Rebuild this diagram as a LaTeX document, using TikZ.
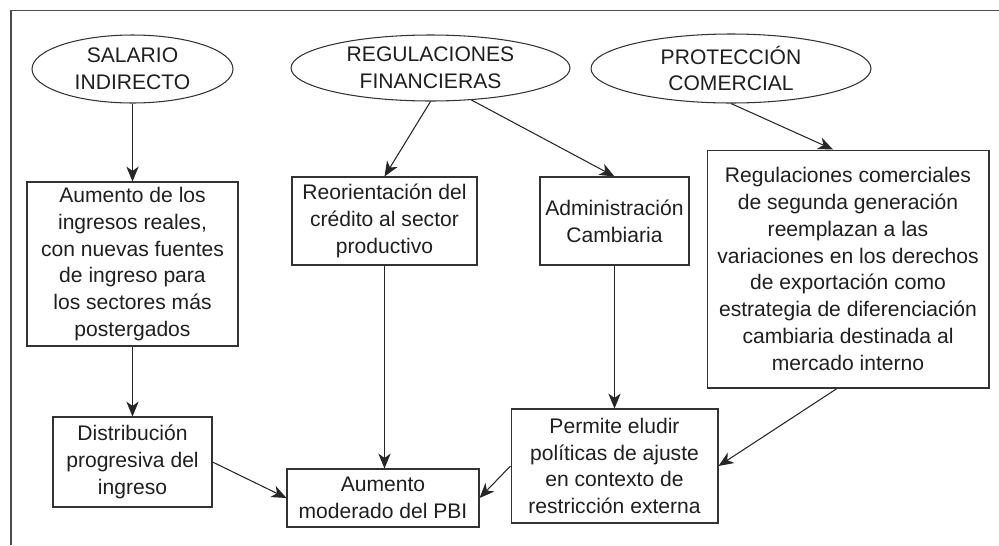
\documentclass[tikz,border=0pt]{standalone}
\usepackage{fontspec}
\setmainfont{Liberation Sans}
\usetikzlibrary{positioning,calc,shapes.geometric,arrows.meta}

\begin{document}
\begin{tikzpicture}[x=0.02cm,y=-0.02cm,
		font=\fontsize{12}{15.3}\selectfont,
		box/.style={draw=black!80,line width=0.6pt,rectangle,inner sep=0pt,align=center,text=black!88},
		oval/.style={draw=black!80,line width=0.6pt,ellipse,inner sep=0pt,align=center,text=black!88},
		arr/.style={draw=black!85,line width=0.6pt,-{Stealth[length=8.5pt,width=7pt,inset=2.5pt]}}]
			\useasboundingbox (0,0) rectangle (999,545);
			
			\draw[line width=0.9pt,black!70] (999,10.5) -- (11,10.5) -- (11,545);
			
			% top row
			\node[oval,minimum width=4.02cm,minimum height=1.36cm] (salario) at (132.5,69) {SALARIO\\INDIRECTO};
			\node[oval,minimum width=5.58cm,minimum height=1.32cm] (regfin) at (430.5,68) {REGULACIONES\\FINANCIERAS};
			\node[oval,minimum width=5.6cm,minimum height=1.38cm] (protec) at (731,68.5) {PROTECCIÓN\\COMERCIAL};
			
			% middle row
			\node[box,minimum width=4.22cm,minimum height=3.28cm] (ingresos) at (132.5,264) {Aumento de los\\ingresos reales,\\con nuevas fuentes\\de ingreso para\\los sectores más\\postergados};
			\node[box,minimum width=3.7cm,minimum height=1.76cm] (reorient) at (384.5,221) {Reorientación del\\crédito al sector\\productivo};
			\node[box,minimum width=2.98cm,minimum height=1.76cm] (admin) at (614.5,221) {Administración\\Cambiaria};
			\node[box,minimum width=5.64cm,minimum height=4.76cm] (regcom) at (848,269) {Regulaciones comerciales\\de segunda generación\\reemplazan a las\\variaciones en los derechos\\de exportación como\\estrategia de diferenciación\\cambiaria destinada al\\mercado interno};
			
			% bottom row
			\node[box,minimum width=3.18cm,minimum height=1.8cm] (distrib) at (132.5,462) {Distribución\\progresiva del\\ingreso};
			\node[box,minimum width=3.84cm,minimum height=1.16cm] (pbi) at (383,498) {Aumento\\moderado del PBI};
			\node[box,minimum width=4.14cm,minimum height=2.28cm] (permite) at (614.5,466) {Permite eludir\\políticas de ajuste\\en contexto de\\restricción externa};
			
			\draw[arr] (salario.south) -- (ingresos.north);
			\draw[arr] (regfin.south) -- (reorient.north);
			\draw[arr] (regfin.-38) -- (admin.north);
			\draw[arr] (protec.south) -- ([xshift=-0.3cm]regcom.north);
			\draw[arr] (ingresos.south) -- (distrib.north);
			\draw[arr] (reorient.south) -- (reorient.south |- pbi.north);
			\draw[arr] (admin.south) -- (permite.north);
			\draw[arr] ([xshift=-0.22cm]regcom.south) -- (permite.east);
			\draw[arr] (distrib.east) -- (pbi.west);
			\draw[arr] (permite.west) -- (pbi.east);
		\end{tikzpicture}
\end{document}
